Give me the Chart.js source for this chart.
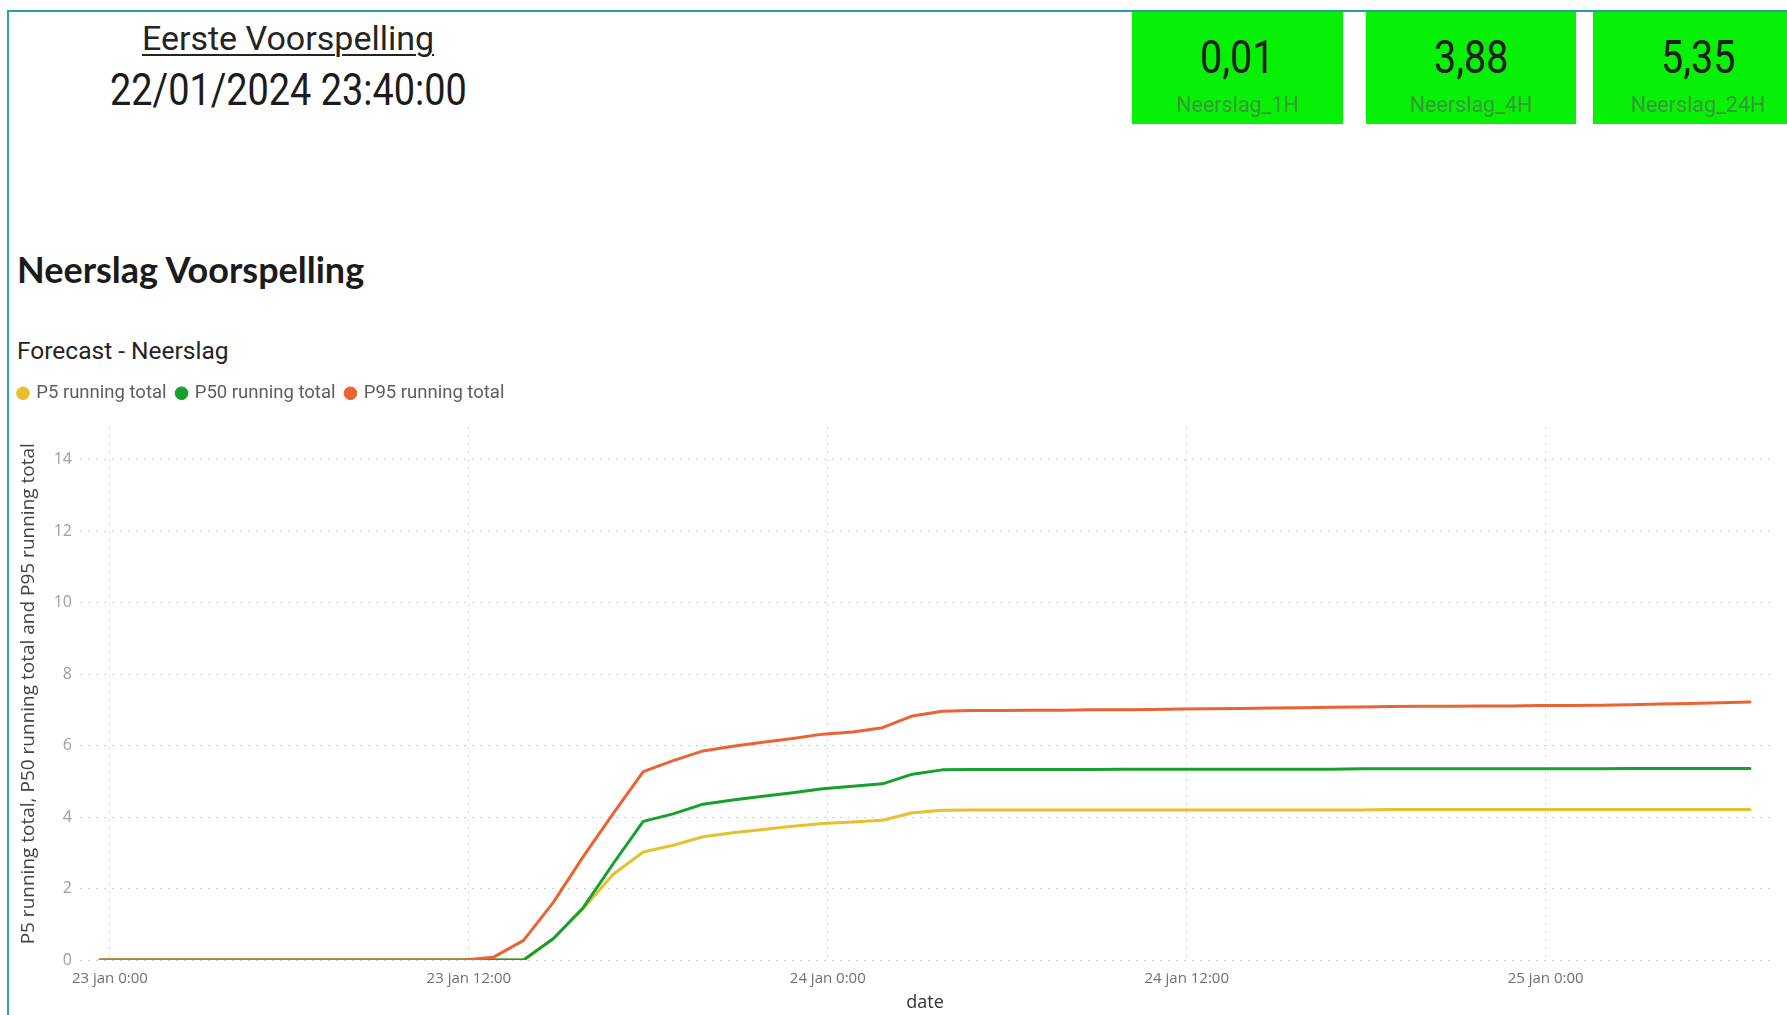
<!DOCTYPE html>
<html>
<head>
<meta charset="utf-8">
<script src="https://cdn.jsdelivr.net/npm/chart.js@4.4.1/dist/chart.umd.min.js"></script>
<style>
  html, body { margin: 0; padding: 0; background: #fff; }
  body { width: 1787px; height: 1015px; position: relative; overflow: hidden; font-family: Roboto, sans-serif; }
  #frame { position: absolute; left: 7px; top: 10px; width: 1780px; height: 1005px;
           border-top: 2px solid #22a39b; border-left: 2px solid #22a39b; box-sizing: border-box; }
  .txt { position: absolute; white-space: nowrap; }
  #title { left: 0; width: 576px; top: 18px; line-height: 40px; text-align: center; font-size: 34px;
           color: #252423; text-decoration: underline; text-decoration-thickness: 2px; text-underline-offset: 4px; }
  #stamp { left: 0; width: 576px; top: 65px; line-height: 50px; text-align: center; font-size: 44px; color: #1b1b1b; }
  #stamp span { display: inline-block; transform: scaleX(0.86); }
  .card { position: absolute; top: 12px; height: 112px; background: #07f107; }
  .card .val { position: absolute; left: 0; right: 0; top: 20px; line-height: 50px; text-align: center;
               font-size: 46px; color: #1e1e1e; }
  .card .val span { display: inline-block; transform: scaleX(0.86); }
  .card .lbl { position: absolute; left: 0; right: 0; top: 80px; line-height: 26px; text-align: center;
               font-size: 21.5px; color: #379a37; }
  #head { left: 17px; top: 249px; line-height: 40px; font-family: Lato, sans-serif; font-weight: 700;
          font-size: 36px; color: #1b1b1b; }
  #sub { left: 17px; top: 337px; line-height: 28px; font-size: 24.5px; color: #252423; }
  #wrap { position: absolute; left: 8px; top: 373px; width: 1779px; height: 642px; }
</style>
</head>
<body>
<div id="frame"></div>
<div class="txt" id="title">Eerste Voorspelling</div>
<div class="txt" id="stamp"><span>22/01/2024 23:40:00</span></div>
<div id="cards"></div>
<div class="txt" id="head">Neerslag Voorspelling</div>
<div class="txt" id="sub">Forecast - Neerslag</div>
<div id="wrap"><canvas id="chart" width="1779" height="642"></canvas></div>

<script>
// KPI tegels
var kpiValues = ['0,01', '3,88', '5,35'];
var kpiLabels = ['Neerslag_1H', 'Neerslag_4H', 'Neerslag_24H'];
var kpiLeft = [1132, 1366, 1593];
var kpiWidth = [211, 210, 210];

// uren vanaf 23 jan 0:00
var hours = [-0.33, 0.83, 1.83, 2.83, 3.83, 4.83, 5.83, 6.83, 7.83, 8.83,
  9.83, 10.83, 11.83, 12.83, 13.83, 14.83, 15.83, 16.83, 17.83, 18.83,
  19.83, 20.83, 21.83, 22.83, 23.83, 24.83, 25.83, 26.83, 27.83, 28.83,
  29.83, 30.83, 31.83, 32.83, 33.83, 34.83, 35.83, 36.83, 37.83, 38.83,
  39.83, 40.83, 41.83, 42.83, 43.83, 44.83, 45.83, 46.83, 47.83, 48.83,
  49.83, 50.83, 51.83, 52.83, 53.83, 54.83];

var p5 = [0, 0, 0, 0, 0, 0, 0, 0, 0, 0,
  0, 0, 0, 0, 0, 0.6, 1.45, 2.4, 3.02, 3.21,
  3.45, 3.56, 3.65, 3.74, 3.82, 3.86, 3.91, 4.12, 4.19, 4.2,
  4.2, 4.2, 4.2, 4.2, 4.2, 4.2, 4.2, 4.2, 4.2, 4.2,
  4.2, 4.2, 4.2, 4.21, 4.21, 4.21, 4.21, 4.21, 4.21, 4.21,
  4.21, 4.21, 4.21, 4.21, 4.21, 4.21];

var p50 = [0, 0, 0, 0, 0, 0, 0, 0, 0, 0,
  0, 0, 0, 0, 0, 0.6, 1.47, 2.7, 3.88, 4.09,
  4.36, 4.48, 4.58, 4.68, 4.79, 4.86, 4.93, 5.2, 5.32, 5.33,
  5.33, 5.33, 5.33, 5.33, 5.34, 5.34, 5.34, 5.34, 5.34, 5.34,
  5.34, 5.34, 5.35, 5.35, 5.35, 5.35, 5.35, 5.35, 5.35, 5.35,
  5.35, 5.36, 5.36, 5.36, 5.36, 5.36];

var p95 = [0, 0, 0, 0, 0, 0, 0, 0, 0, 0,
  0, 0, 0, 0.08, 0.55, 1.62, 2.9, 4.1, 5.27, 5.58,
  5.85, 5.98, 6.09, 6.2, 6.32, 6.38, 6.5, 6.83, 6.96, 6.98,
  6.98, 6.99, 6.99, 7.0, 7.0, 7.01, 7.02, 7.03, 7.04, 7.05,
  7.06, 7.07, 7.08, 7.09, 7.1, 7.1, 7.11, 7.11, 7.12, 7.12,
  7.13, 7.14, 7.16, 7.18, 7.2, 7.22];

var xTicks = [0, 12, 24, 36, 48];
var xTickLabels = ['23 jan 0:00', '23 jan 12:00', '24 jan 0:00', '24 jan 12:00', '25 jan 0:00'];
var yTicks = [0, 2, 4, 6, 8, 10, 12, 14];

var cards = document.getElementById('cards');
for (var i = 0; i < kpiValues.length; i++) {
  var card = document.createElement('div');
  card.className = 'card';
  card.style.left = kpiLeft[i] + 'px';
  card.style.width = kpiWidth[i] + 'px';
  card.innerHTML = '<div class="val"><span>' + kpiValues[i] + '</span></div><div class="lbl">' + kpiLabels[i] + '</div>';
  cards.appendChild(card);
}

function toPoints(values) {
  var pts = [];
  for (var i = 0; i < values.length; i++) {
    pts.push({ x: hours[i], y: values[i] });
  }
  return pts;
}

// extra ruimte tussen legenda en grafiek
var legendGap = {
  id: 'legendGap',
  afterInit: function(chart) {
    var fit = chart.legend.fit;
    chart.legend.fit = function() {
      fit.bind(chart.legend)();
      this.height += 15;
    };
  }
};

Chart.defaults.font.family = 'Open Sans';

var ctx = document.getElementById('chart').getContext('2d');
new Chart(ctx, {
  type: 'line',
  data: {
    datasets: [
      { label: 'P5 running total', data: toPoints(p5), borderColor: '#e6c02f', backgroundColor: '#e6c02f', order: 3 },
      { label: 'P50 running total', data: toPoints(p50), borderColor: '#16a02c', backgroundColor: '#16a02c', order: 2 },
      { label: 'P95 running total', data: toPoints(p95), borderColor: '#ea6433', backgroundColor: '#ea6433', order: 1 }
    ]
  },
  plugins: [legendGap],
  options: {
    responsive: false,
    animation: false,
    events: [],
    layout: { padding: { right: 17 } },
    elements: {
      line: { borderWidth: 3, tension: 0, fill: false, borderJoinStyle: 'round', borderCapStyle: 'round' },
      point: { radius: 0 }
    },
    plugins: {
      tooltip: { enabled: false },
      legend: {
        position: 'top',
        align: 'start',
        labels: {
          usePointStyle: true,
          pointStyle: 'circle',
          boxWidth: 8,
          boxHeight: 9,
          padding: 11,
          color: '#605e5c',
          font: { family: 'Roboto', size: 18.5 },
          sort: function(a, b) { return a.datasetIndex - b.datasetIndex; }
        }
      }
    },
    scales: {
      x: {
        type: 'linear',
        min: -1,
        max: 55.5,
        afterFit: function(scale) { scale.height = 55; },
        afterBuildTicks: function(scale) {
          scale.ticks = xTicks.map(function(v) { return { value: v }; });
        },
        ticks: {
          padding: 10,
          maxRotation: 0,
          autoSkip: false,
          color: '#707070',
          font: { size: 15 },
          callback: function(value) {
            var idx = xTicks.indexOf(value);
            return idx >= 0 ? xTickLabels[idx] : '';
          }
        },
        grid: { color: '#cfcfcf', lineWidth: 1, drawTicks: false },
        border: { display: false, dash: [2, 6] },
        title: { display: true, text: 'date', color: '#333', font: { size: 18 }, padding: { top: 0, bottom: 1 } }
      },
      y: {
        min: 0,
        max: 14.9,
        afterFit: function(scale) { scale.width = 72; },
        afterBuildTicks: function(scale) {
          scale.ticks = yTicks.map(function(v) { return { value: v }; });
        },
        ticks: { padding: 8, color: '#a0a0a0', font: { size: 16 } },
        grid: { color: '#cfcfcf', lineWidth: 1, drawTicks: false },
        border: { display: false, dash: [2, 6] },
        title: {
          display: true,
          text: 'P5 running total, P50 running total and P95 running total',
          color: '#444',
          font: { size: 19 },
          padding: { top: 9, bottom: 0 }
        }
      }
    }
  }
});
</script>
</body>
</html>
